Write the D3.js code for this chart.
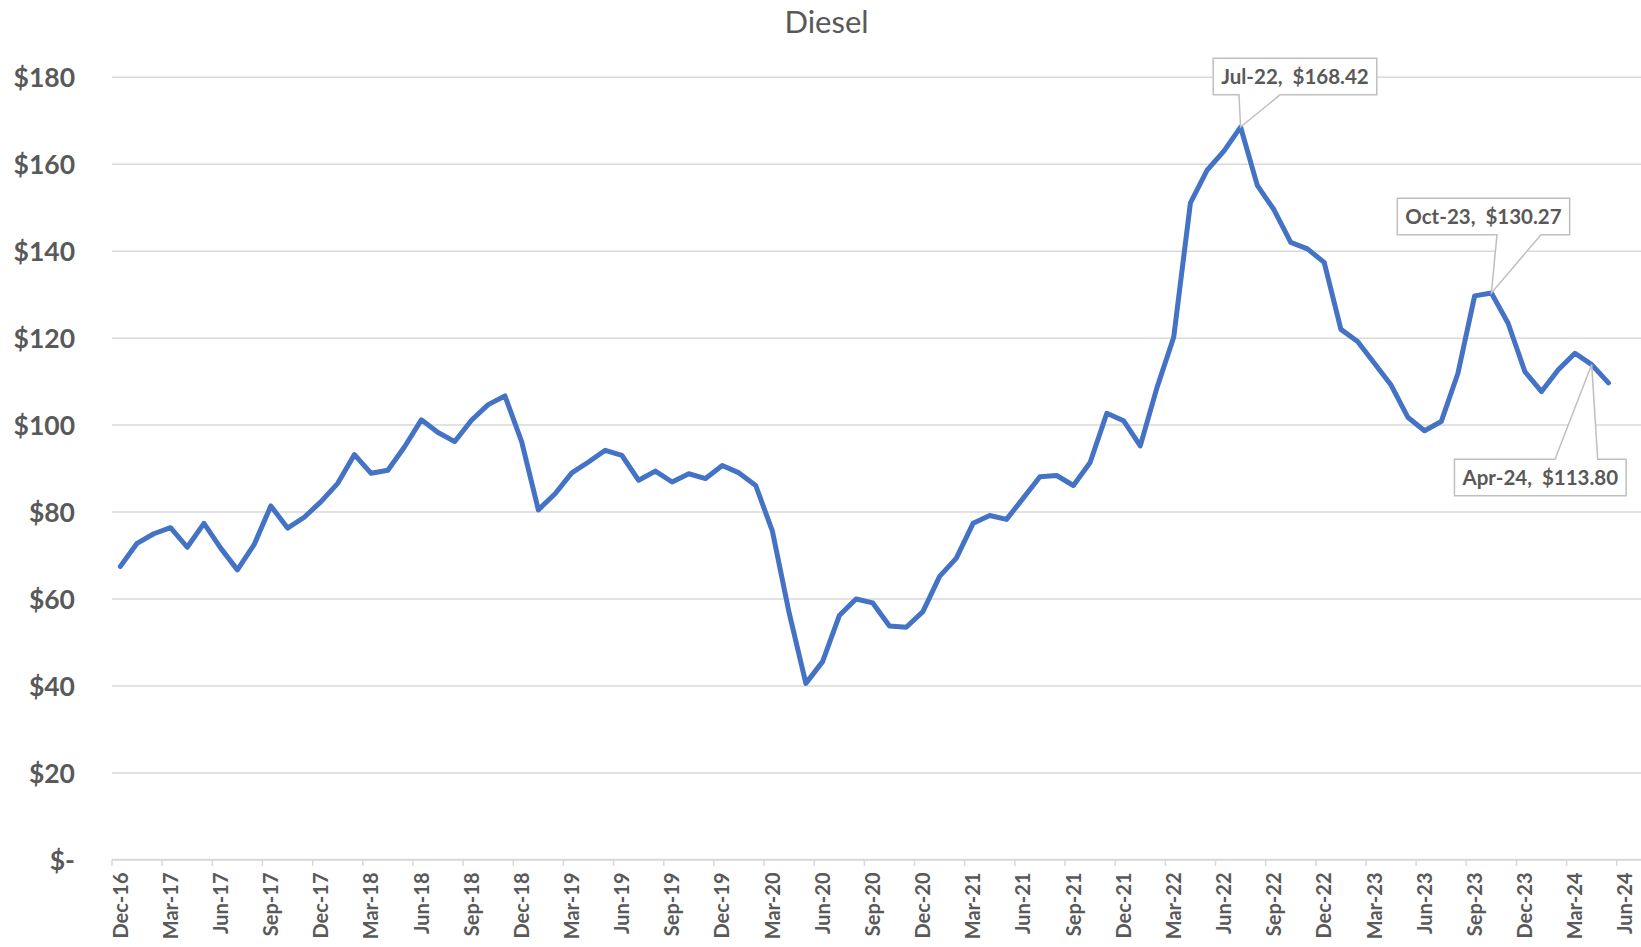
<!DOCTYPE html>
<html>
<head>
<meta charset="utf-8">
<script src="https://cdn.jsdelivr.net/npm/d3@7"></script>
<style>
  html, body { margin: 0; padding: 0; background: #ffffff; }
  svg { display: block; }
  text { font-family: Lato, "Open Sans", sans-serif; }
</style>
</head>
<body>
<svg id="chart" width="1641" height="947"></svg>
<script>
// ---------------- DATA ----------------
const title = "Diesel";

const categories = [
  "Dec-16",
  "Jan-17","Feb-17","Mar-17","Apr-17","May-17","Jun-17","Jul-17","Aug-17","Sep-17","Oct-17","Nov-17","Dec-17",
  "Jan-18","Feb-18","Mar-18","Apr-18","May-18","Jun-18","Jul-18","Aug-18","Sep-18","Oct-18","Nov-18","Dec-18",
  "Jan-19","Feb-19","Mar-19","Apr-19","May-19","Jun-19","Jul-19","Aug-19","Sep-19","Oct-19","Nov-19","Dec-19",
  "Jan-20","Feb-20","Mar-20","Apr-20","May-20","Jun-20","Jul-20","Aug-20","Sep-20","Oct-20","Nov-20","Dec-20",
  "Jan-21","Feb-21","Mar-21","Apr-21","May-21","Jun-21","Jul-21","Aug-21","Sep-21","Oct-21","Nov-21","Dec-21",
  "Jan-22","Feb-22","Mar-22","Apr-22","May-22","Jun-22","Jul-22","Aug-22","Sep-22","Oct-22","Nov-22","Dec-22",
  "Jan-23","Feb-23","Mar-23","Apr-23","May-23","Jun-23","Jul-23","Aug-23","Sep-23","Oct-23","Nov-23","Dec-23",
  "Jan-24","Feb-24","Mar-24","Apr-24","May-24","Jun-24"
];

// Diesel values, Dec-16 .. May-24 (Jun-24 has no value)
const dieselValues = [
  67.4,
  72.7, 74.9, 76.3, 71.8, 77.3, 71.6, 66.6, 72.4, 81.3, 76.2, 78.7, 82.3,
  86.5, 93.1, 88.8, 89.5, 94.9, 101.1, 98.2, 96.1, 101.0, 104.6, 106.6, 96.1,
  80.4, 84.1, 88.9, 91.4, 94.1, 92.9, 87.2, 89.3, 86.8, 88.7, 87.6, 90.6,
  88.9, 86.0, 75.5, 56.7, 40.5, 45.5, 56.1, 59.9, 59.0, 53.7, 53.4, 57.0,
  65.1, 69.3, 77.3, 79.1, 78.2, 83.1, 88.0, 88.3, 86.0, 91.3, 102.6, 100.9,
  95.1, 108.5, 120.1, 151.0, 158.5, 162.9, 168.42, 155.0, 149.4, 141.9, 140.4, 137.3,
  121.9, 119.1, 114.1, 109.1, 101.7, 98.6, 100.7, 111.8, 129.6, 130.27, 123.3, 112.2,
  107.6, 112.6, 116.4, 113.80, 109.6
];

const yTickValues = [0, 20, 40, 60, 80, 100, 120, 140, 160, 180];
const yTickLabels = ["$-", "$20", "$40", "$60", "$80", "$100", "$120", "$140", "$160", "$180"];

const xTickLabels = categories.filter((d, i) => i % 3 === 0);

const calloutCategories = ["Jul-22", "Oct-23", "Apr-24"];
const calloutTexts = ["Jul-22,  $168.42", "Oct-23,  $130.27", "Apr-24,  $113.80"];

// ---------------- LAYOUT ----------------
const W = 1641, H = 947;
const plot = { left: 112, right: 1633.5, top: 76.7, bottom: 859.5 };
const colText = "#595959";
const colGrid = "#d9d9d9";
const colLine = "#4472C4";

// callout placement (relative to the point) - layout only
const calloutLayout = {
  "Jul-22": { cx: 54.4,  top: -68.7, side: "bottom", w1: -1.6,  w2: 39.4 },
  "Oct-23": { cx: -7.9,  top: -94.7, side: "bottom", w1: 5.6,   w2: 49.6 },
  "Apr-24": { cx: -51.4, top: 94.7,  side: "top",    w1: -36.7, w2: 6.0 }
};

const svg = d3.select("#chart");
svg.append("rect").attr("width", W).attr("height", H).attr("fill", "#fff");

const x = d3.scaleBand().domain(categories).range([plot.left, plot.right]).padding(0);
const y = d3.scaleLinear().domain([0, 180]).range([plot.bottom, plot.top]);
const bw = x.bandwidth();
const cx = c => x(c) + bw / 2;

// Title
svg.append("text")
  .attr("x", 826.5).attr("y", 21)
  .attr("text-anchor", "middle").attr("dominant-baseline", "central")
  .attr("font-size", 31).attr("fill", colText)
  .text(title);

// Y axis with gridlines
const yAxis = d3.axisLeft(y)
  .tickValues(yTickValues)
  .tickFormat((d, i) => yTickLabels[i])
  .tickSize(-(plot.right - plot.left))
  .tickPadding(plot.left - 75);

const gy = svg.append("g").attr("transform", `translate(${plot.left},0)`).call(yAxis);
gy.select(".domain").remove();
gy.selectAll(".tick line").attr("stroke", colGrid).attr("stroke-width", 1.5)
  .attr("x2", W - plot.left);
gy.selectAll(".tick text")
  .attr("font-family", "Lato, sans-serif")
  .attr("font-size", 26.5).attr("font-weight", "bold").attr("fill", colText)
  .attr("dy", "0.36em");

// X axis
const xAxis = d3.axisBottom(x)
  .tickValues(xTickLabels)
  .tickSize(0)
  .tickPadding(0);
const gx = svg.append("g").attr("transform", `translate(0,${plot.bottom})`).call(xAxis);
gx.select(".domain").attr("stroke", colGrid).attr("stroke-width", 1.5)
  .attr("d", `M${plot.left},0H${W}`);
gx.selectAll(".tick text")
  .attr("font-family", "Lato, sans-serif")
  .attr("font-size", 20).attr("font-weight", "bold").attr("fill", colText)
  .attr("text-anchor", "end")
  .attr("transform", "rotate(-90)")
  .attr("x", -13).attr("y", 0).attr("dy", "0.36em");

// tick marks at category boundaries
gx.selectAll(".bound")
  .data(xTickLabels)
  .join("line")
  .attr("class", "bound")
  .attr("x1", d => x(d)).attr("x2", d => x(d))
  .attr("y1", 0).attr("y2", 6.5)
  .attr("stroke", colGrid).attr("stroke-width", 1.5);

// Line
const series = dieselValues.map((v, i) => ({ c: categories[i], v }));
const line = d3.line().x(d => cx(d.c)).y(d => y(d.v));
svg.append("path")
  .datum(series)
  .attr("d", line)
  .attr("fill", "none")
  .attr("stroke", colLine)
  .attr("stroke-width", 5)
  .attr("stroke-linejoin", "round")
  .attr("stroke-linecap", "round");

// Callouts
calloutCategories.forEach((c, k) => {
  const idx = categories.indexOf(c);
  const px = cx(c), py = y(dieselValues[idx]);
  const L = calloutLayout[c];
  const g = svg.append("g");
  const t = g.append("text")
    .attr("xml:space", "preserve")
    .attr("font-family", "Lato, sans-serif")
    .attr("font-size", 20.5).attr("font-weight", "bold").attr("fill", colText)
    .attr("text-anchor", "middle")
    .style("white-space", "pre")
    .text(calloutTexts[k]);
  const tw = t.node().getComputedTextLength();
  const bwid = tw + 16, bh = 36.5;
  const left = px + L.cx - bwid / 2, right = left + bwid;
  const top = py + L.top, bottom = top + bh;
  const a = px + L.w1, b = px + L.w2;
  let d;
  if (L.side === "bottom") {
    d = `M${left},${top}H${right}V${bottom}H${b}L${px},${py}L${a},${bottom}H${left}Z`;
  } else {
    d = `M${left},${top}H${a}L${px},${py}L${b},${top}H${right}V${bottom}H${left}Z`;
  }
  g.insert("path", "text")
    .attr("d", d)
    .attr("fill", "#fff")
    .attr("stroke", "#bfbfbf")
    .attr("stroke-width", 1.5);
  t.attr("x", px + L.cx).attr("y", top + bh / 2).attr("dy", "0.36em");
});
</script>
</body>
</html>
